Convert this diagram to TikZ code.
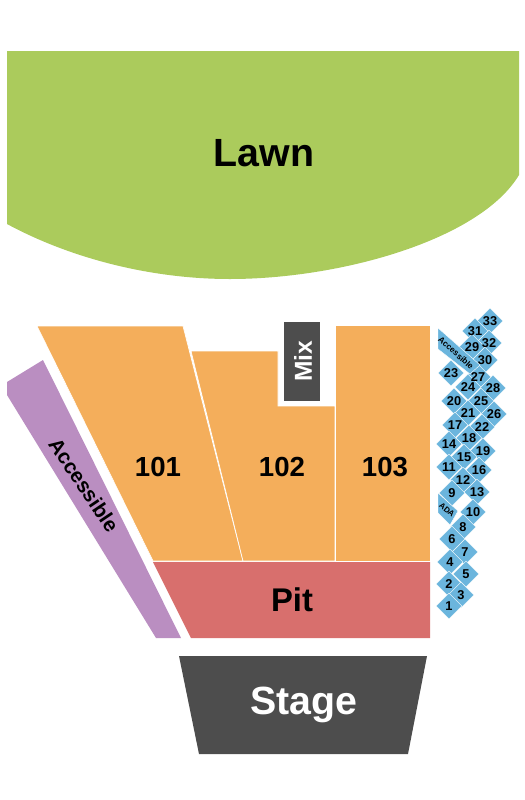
\documentclass[tikz,border=0pt]{standalone}
\usepackage{fontspec}
\setmainfont{Liberation Sans}
\usetikzlibrary{shapes.geometric}
\definecolor{lawngreen}{HTML}{ABCB5C}
\definecolor{sectionorange}{HTML}{F4AE5B}
\definecolor{pitred}{HTML}{D86F6D}
\definecolor{accesspurple}{HTML}{BA8EC1}
\definecolor{stagegrey}{HTML}{4D4D4D}
\definecolor{seatblue}{HTML}{6BB5DD}
\newcommand{\seatlist}{33/490/321,31/475/331,32/489/343,29/472/347,30/485/360,23/451/373,27/478/377,28/493/388,24/468/387,20/454/401,25/481/401,26/494/414,21/468/413,17/455/425,22/482/427,18/469/438,14/449/444,19/483/451,15/464/457,11/449/467,16/479/470,12/463/480,13/477/492,9/452/493,10/473/512,8/463/527,6/452/539,7/465/552,4/450/562,5/466/574,2/449/584,3/461/595,1/449/606}
\tikzset{
  section/.style={fill=sectionorange,draw=white,line width=0.5pt},
  seat/.style={diamond,aspect=1,fill=seatblue,draw=white,line width=0.3pt,inner sep=0pt,minimum size=19.5pt},
  seatnum/.style={inner sep=0pt,font=\fontsize{9.6}{9.6}\selectfont\bfseries},
  bigname/.style={font=\fontsize{20.7}{20.7}\selectfont\bfseries}
}
\begin{document}
\begin{tikzpicture}[x=0.75pt,y=-0.75pt]
\useasboundingbox (0,0) rectangle (525,800);

\fill[lawngreen] (7,51) -- (519,51) -- (519,175) .. controls (480,240) and (340,279) .. (230,279) .. controls (150,279) and (70,258) .. (7,224) -- cycle;
\node[font=\fontsize{29.5}{29.5}\selectfont\bfseries] (lawn) at (264,153) {Lawn};

\fill[accesspurple] (43,360) -- (181,638) -- (156,638) -- (7,395) -- (7,382) -- cycle;
\node[rotate=-56,font=\fontsize{15.5}{15.5}\selectfont\bfseries] (accessible) at (84,485) {Accessible};

\draw[section] (37,326) -- (183,326) -- (243,561) -- (153,561) -- cycle;
\node[bigname] (sec101) at (158,467) {101};

\draw[section] (191,351) -- (278,351) -- (278,406) -- (335,406) -- (335,561) -- (243,561) -- cycle;
\node[bigname] (sec102) at (282,467) {102};

\draw[section] (335.5,325) rectangle (430,561);
\node[bigname] (sec103) at (385,467) {103};

\fill[stagegrey] (284,322) rectangle (320,401);
\node[rotate=90,text=white,font=\fontsize{18.4}{18.4}\selectfont\bfseries] (mix) at (303,361) {Mix};

\fill[pitred] (153,562) -- (430,562) -- (430,638) -- (191,638) -- cycle;
\node[font=\fontsize{24.6}{24.6}\selectfont\bfseries] (pit) at (292,600) {Pit};

\fill[stagegrey] (179,656) -- (427,656) -- (408,754) -- (199,754) -- cycle;
\node[text=white,font=\fontsize{29.5}{29.5}\selectfont\bfseries] (stage) at (304,705) {Stage};

\foreach \seatname/\seatx/\seaty in \seatlist
  \node[seat] (s\seatname) at (\seatx,\seaty) {};

\fill[seatblue,draw=white,line width=0.3pt] (438,328) -- (480,365) -- (470,374) -- (438,349) -- cycle;
\node[rotate=-42,font=\fontsize{6.3}{6.3}\selectfont\bfseries] (access) at (456,353) {Accessible};

\fill[seatblue,draw=white,line width=0.3pt] (438,493) -- (458,511) -- (450,525) -- (438,513) -- cycle;
\node[rotate=-40,font=\fontsize{6}{6}\selectfont\bfseries] (ada) at (447,510) {ADA};

\foreach \seatname/\seatx/\seaty in \seatlist
  \node[seatnum] at (s\seatname) {\seatname};
\end{tikzpicture}
\end{document}
